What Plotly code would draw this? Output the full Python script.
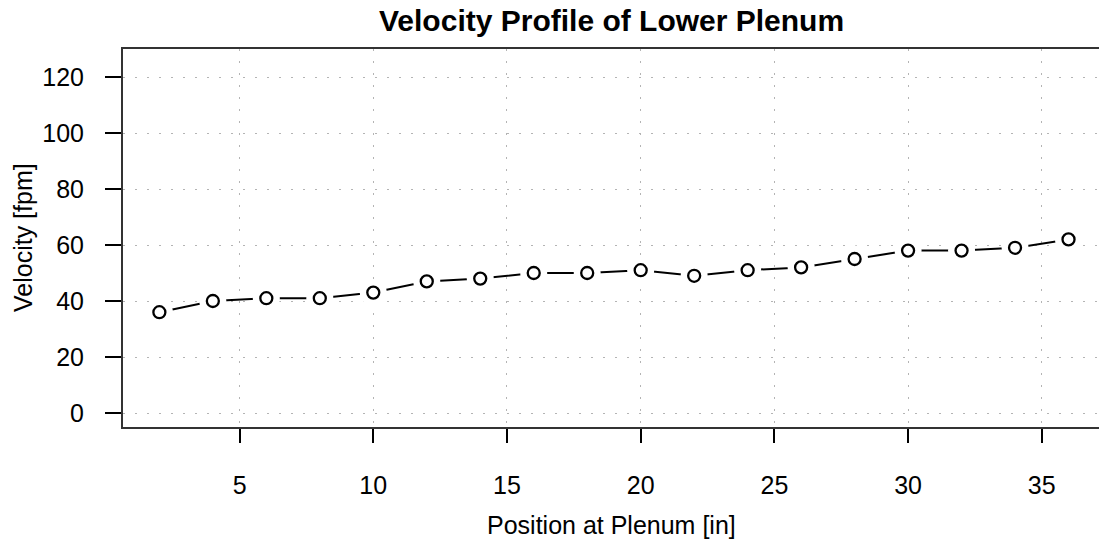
import plotly.graph_objects as go

position_in = [2, 4, 6, 8, 10, 12, 14, 16, 18, 20, 22, 24, 26, 28, 30, 32, 34, 36]
velocity_fpm = [36, 40, 41, 41, 43, 47, 48, 50, 50, 51, 49, 51, 52, 55, 58, 58, 59, 62]
x_ticks = [5, 10, 15, 20, 25, 30, 35]
y_ticks = [0, 20, 40, 60, 80, 100, 120]

FONT = "Liberation Sans, Arial, Helvetica, sans-serif"

fig = go.Figure()
# connecting line
fig.add_trace(go.Scatter(x=position_in, y=velocity_fpm, mode="lines",
                         line=dict(color="black", width=2), hoverinfo="skip", showlegend=False))
# white gaps around points (R type="b")
fig.add_trace(go.Scatter(x=position_in, y=velocity_fpm, mode="markers",
                         marker=dict(symbol="circle", size=27, color="white", line=dict(width=0)),
                         hoverinfo="skip", showlegend=False))
# open circles
fig.add_trace(go.Scatter(x=position_in, y=velocity_fpm, mode="markers",
                         marker=dict(symbol="circle-open", size=12, color="black", line=dict(width=2.3)),
                         showlegend=False))

grid = dict(showgrid=True, gridcolor="#b4b4b4", gridwidth=1.3, griddash="1.5px,10.5px", zeroline=False)

fig.update_layout(
    width=1099, height=545,
    margin=dict(l=123, r=0, t=49, b=118),
    paper_bgcolor="white", plot_bgcolor="white",
    font=dict(family=FONT, color="black", size=25),
    xaxis=dict(range=[0.64, 37.14], tickvals=x_ticks, ticks="outside", ticklen=14, tickwidth=2,
               tickcolor="black", showline=True, linecolor="#333", linewidth=2, mirror=True,
               ticklabelstandoff=21, tickfont=dict(size=25), **grid),
    yaxis=dict(range=[-5, 130], tickvals=y_ticks, ticks="outside", ticklen=16, tickwidth=2,
               tickcolor="black", showline=True, linecolor="#333", linewidth=2,
               ticklabelstandoff=16, tickfont=dict(size=25), **grid),
    annotations=[
        dict(text="<b>Velocity Profile of Lower Plenum</b>", xref="paper", yref="paper",
             x=0.5, y=1, xanchor="center", yanchor="middle", yshift=29, showarrow=False,
             font=dict(size=30, family=FONT)),
        dict(text="Position at Plenum [in]", xref="paper", yref="paper",
             x=0.5, y=0, xanchor="center", yanchor="middle", yshift=-98, showarrow=False,
             font=dict(size=25, family=FONT)),
        dict(text="Velocity [fpm]", xref="paper", yref="paper", textangle=-90,
             x=0, y=0.5, xanchor="center", yanchor="middle", xshift=-100, showarrow=False,
             font=dict(size=25, family=FONT)),
    ],
)

fig.write_html("out.html", config={"displayModeBar": False},
               post_script="document.body.style.margin='0';document.body.style.overflow='hidden';")
